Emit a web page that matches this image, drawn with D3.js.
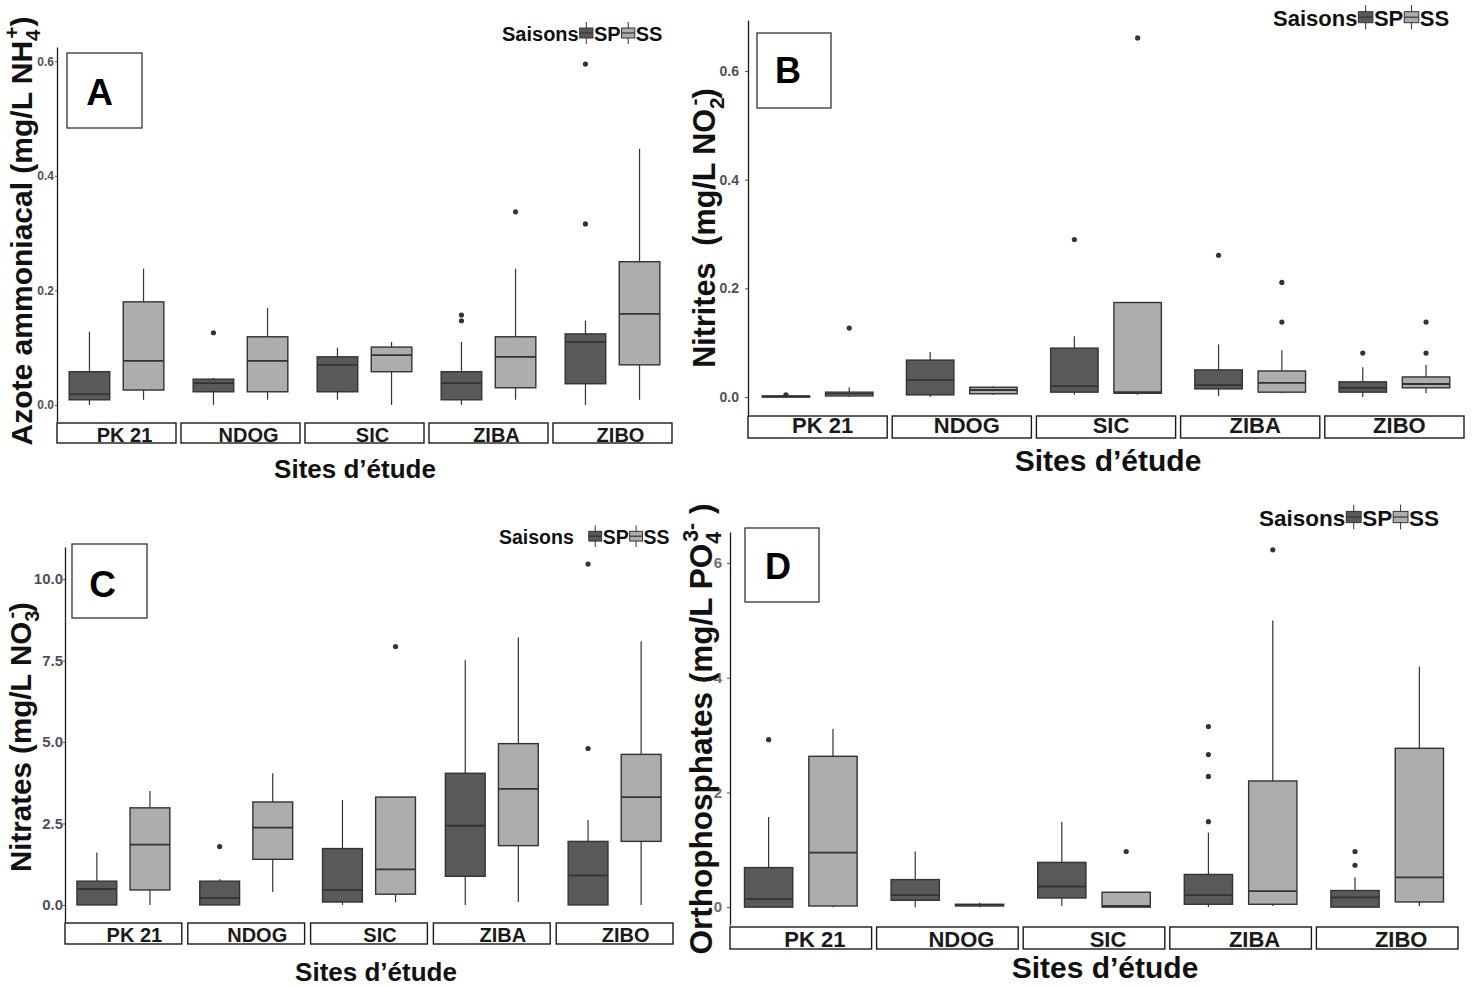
<!DOCTYPE html>
<html>
<head>
<meta charset="utf-8">
<script src="https://cdn.jsdelivr.net/npm/d3@7"></script>
<style>
  html, body { margin: 0; padding: 0; background: #ffffff; }
  svg { display: block; }
  text { font-family: "Liberation Sans", Arial, sans-serif; }
</style>
</head>
<body>
<svg id="chart" width="1474" height="986"></svg>
<script>
// ---- Categories ----
const sites = ["PK 21", "NDOG", "SIC", "ZIBA", "ZIBO"];
const seasons = ["SP", "SS"];
const legendTitle = "Saisons";
const xTitle = "Sites d’étude";

// ---- Box statistics per site: [lower whisker, Q1, median, Q3, upper whisker] ----
// A: ammonium nitrogen (mg/L NH4+)
const ammoniumSP = [
  [0.000, 0.009, 0.019, 0.058, 0.128],
  [0.000, 0.023, 0.038, 0.045, 0.047],
  [0.009, 0.023, 0.070, 0.084, 0.100],
  [0.000, 0.009, 0.038, 0.058, 0.110],
  [0.000, 0.037, 0.110, 0.124, 0.147]
];
const ammoniumSS = [
  [0.009, 0.026, 0.077, 0.180, 0.238],
  [0.009, 0.023, 0.077, 0.119, 0.169],
  [0.000, 0.058, 0.087, 0.101, 0.110],
  [0.009, 0.030, 0.084, 0.119, 0.238],
  [0.009, 0.070, 0.159, 0.250, 0.447]
];
const ammoniumOutSP = [[], [0.126], [], [0.157, 0.147], [0.595, 0.316]];
const ammoniumOutSS = [[], [], [], [0.337], []];
const ammoniumTicks = [0, 0.2, 0.4, 0.6];

// B: nitrites (mg/L NO2-)
const nitriteSP = [
  [0.000, 0.000, 0.001, 0.002, 0.003],
  [0.000, 0.004, 0.031, 0.068, 0.083],
  [0.004, 0.009, 0.020, 0.090, 0.112],
  [0.002, 0.015, 0.022, 0.050, 0.097],
  [0.000, 0.009, 0.017, 0.028, 0.055]
];
const nitriteSS = [
  [0.000, 0.002, 0.006, 0.009, 0.018],
  [0.004, 0.006, 0.013, 0.018, 0.020],
  [0.004, 0.007, 0.009, 0.174, 0.174],
  [0.007, 0.009, 0.026, 0.048, 0.086],
  [0.007, 0.017, 0.024, 0.037, 0.059]
];
const nitriteOutSP = [[0.004], [], [0.290], [0.261], [0.081]];
const nitriteOutSS = [[0.127], [], [0.661], [0.211, 0.138], [0.081, 0.138]];
const nitriteTicks = [0, 0.2, 0.4, 0.6];

// C: nitrates (mg/L NO3-)
const nitrateSP = [
  [0.00, 0.00, 0.49, 0.73, 1.61],
  [0.00, 0.00, 0.21, 0.73, 0.79],
  [0.00, 0.09, 0.46, 1.73, 3.22],
  [0.00, 0.88, 2.43, 4.04, 7.51],
  [0.00, 0.00, 0.91, 1.95, 2.61]
];
const nitrateSS = [
  [0.00, 0.46, 1.85, 2.98, 3.50],
  [0.40, 1.40, 2.37, 3.16, 4.04],
  [0.09, 0.33, 1.09, 3.31, 3.31],
  [0.09, 1.82, 3.56, 4.95, 8.21],
  [0.00, 1.95, 3.31, 4.62, 8.09]
];
const nitrateOutSP = [[], [1.79], [], [], [10.46, 4.80]];
const nitrateOutSS = [[], [], [7.93], [], []];
const nitrateTicks = [0, 2.5, 5, 7.5, 10];

// D: orthophosphates (mg/L PO4 3-)
const phosphateSP = [
  [0.00, 0.00, 0.14, 0.69, 1.57],
  [0.00, 0.12, 0.21, 0.48, 0.97],
  [0.02, 0.16, 0.36, 0.78, 1.49],
  [0.00, 0.05, 0.21, 0.57, 1.30],
  [0.00, 0.00, 0.17, 0.29, 0.52]
];
const phosphateSS = [
  [0.00, 0.02, 0.95, 2.63, 3.11],
  [0.00, 0.02, 0.04, 0.05, 0.08],
  [0.00, 0.00, 0.02, 0.26, 0.26],
  [0.02, 0.05, 0.28, 2.20, 5.00],
  [0.02, 0.09, 0.52, 2.77, 4.19]
];
const phosphateOutSP = [[2.92], [], [], [3.15, 2.66, 2.28, 1.49], [0.97, 0.73]];
const phosphateOutSS = [[], [], [0.97], [6.23], []];
const phosphateTicks = [0, 2, 4, 6];

// ---- Axis titles (k: sub / sup for chemical notation) ----
const ammoniumLabel = [{t: "Azote ammoniacal (mg/L NH"}, {t: "4", k: "sub"}, {t: "+", k: "sup", dx: -9}, {t: ")"}];
const nitriteLabel = [{t: "Nitrites  (mg/L NO"}, {t: "2", k: "sub"}, {t: "-", k: "sup", dx: -8}, {t: ")"}];
const nitrateLabel = [{t: "Nitrates (mg/L NO"}, {t: "3", k: "sub"}, {t: "-", k: "sup", dx: -8}, {t: ")"}];
const phosphateLabel = [{t: "Orthophosphates (mg/L PO"}, {t: "4", k: "sub"}, {t: "3-", k: "sup", dx: -10}, {t: " )"}];

// ---- Colours ----
const seasonFill = {SP: "#595959", SS: "#adadad"};
const ink = "#333333";

// ---- Panel layout ----
const panels = [
  { tag: "A", sp: ammoniumSP, ss: ammoniumSS, outSP: ammoniumOutSP, outSS: ammoniumOutSS,
    ticks: ammoniumTicks, fmt: d3.format(".1f"), label: ammoniumLabel,
    frame: {left: 57, right: 672, top: 47, bottom: 422, gap: 5, stripTop: 423, stripH: 20},
    tick: {size: 12, len: 2, pad: 1, color: "#4f4f5c"},
    ytitle: {x: 32, y: 231, size: 30},
    strip: {size: 20, dx: 8, base: 19},
    box: {x: 67, y: 53, w: 75, h: 75, size: 37, dx: -5, base: 52},
    legend: {x: 502, y: 41, size: 20, gap: 1},
    xtitle: {x: 355, y: 478, size: 26} },
  { tag: "B", sp: nitriteSP, ss: nitriteSS, outSP: nitriteOutSP, outSS: nitriteOutSS,
    ticks: nitriteTicks, fmt: d3.format(".1f"), label: nitriteLabel,
    frame: {left: 748, right: 1464, top: 20, bottom: 415, gap: 5, stripTop: 416, stripH: 22},
    tick: {size: 14, len: 3, pad: 6, color: "#4f4f5c"},
    ytitle: {x: 715, y: 228, size: 30.5},
    strip: {size: 22, dx: 5, base: 17},
    box: {x: 757, y: 33, w: 74, h: 75, size: 36, dx: -6, base: 50},
    legend: {x: 1273, y: 26, size: 22, gap: 1},
    xtitle: {x: 1108, y: 471, size: 30} },
  { tag: "C", sp: nitrateSP, ss: nitrateSS, outSP: nitrateOutSP, outSS: nitrateOutSS,
    ticks: nitrateTicks, fmt: d3.format(".1f"), label: nitrateLabel,
    frame: {left: 65, right: 673, top: 547, bottom: 922, gap: 6, stripTop: 923, stripH: 21},
    tick: {size: 15, len: 2, pad: 0, color: "#4f4f5c"},
    ytitle: {x: 31, y: 737, size: 29.5},
    strip: {size: 20, dx: 11, base: 19},
    box: {x: 72, y: 544, w: 75, h: 74, size: 37, dx: -7, base: 53},
    legend: {x: 499, y: 544, size: 19.5, gap: 15},
    xtitle: {x: 376, y: 981, size: 26} },
  { tag: "D", sp: phosphateSP, ss: phosphateSS, outSP: phosphateOutSP, outSS: phosphateOutSS,
    ticks: phosphateTicks, fmt: d3.format("d"), label: phosphateLabel,
    frame: {left: 730, right: 1458, top: 532, bottom: 925, gap: 5, stripTop: 927, stripH: 22},
    tick: {size: 15, len: 3, pad: 5, color: "#6b6b78"},
    ytitle: {x: 712, y: 729, size: 31.5},
    strip: {size: 22, dx: 14, base: 20},
    box: {x: 745, y: 528, w: 74, h: 74, size: 36, dx: -4, base: 51},
    legend: {x: 1259, y: 526, size: 22.5, gap: 1},
    xtitle: {x: 1105, y: 978, size: 30} }
];

const svg = d3.select("#chart");
svg.append("rect").attr("width", 1474).attr("height", 986).attr("fill", "#ffffff");

// Writes a label with sub/superscript tspans into a text selection
function richText(sel, segs, size) {
  let cur = 0;
  segs.forEach(s => {
    const target = s.k === "sub" ? 0.28 * size : s.k === "sup" ? -0.45 * size : 0;
    const ts = sel.append("tspan")
      .attr("dy", target - cur)
      .attr("font-size", s.k ? 0.68 * size : size)
      .text(s.t);
    if (s.dx) ts.attr("dx", s.dx);
    cur = target;
  });
}

// Small boxplot glyph used as a legend key
function legendKey(g, x, cy, size, fill) {
  const kw = 0.66 * size, kh = 0.5 * size;
  g.append("line").attr("x1", x + kw / 2).attr("x2", x + kw / 2)
    .attr("y1", cy - 0.55 * size).attr("y2", cy + 0.55 * size)
    .attr("stroke", ink).attr("stroke-width", 1);
  g.append("rect").attr("x", x).attr("y", cy - kh / 2).attr("width", kw).attr("height", kh)
    .attr("fill", fill).attr("stroke", ink).attr("stroke-width", 1);
  g.append("line").attr("x1", x).attr("x2", x + kw).attr("y1", cy).attr("y2", cy)
    .attr("stroke", ink).attr("stroke-width", 1.2);
  return kw;
}

function drawPanel(p) {
  const g = svg.append("g").attr("class", "panel-" + p.tag);
  const F = p.frame;

  // y scale: data range expanded by 5% on each side
  const allVals = [];
  [p.sp, p.ss].forEach(arr => arr.forEach(r => allVals.push(...r)));
  [p.outSP, p.outSS].forEach(arr => arr.forEach(r => allVals.push(...r)));
  const lo = d3.min(allVals), hi = d3.max(allVals), pad = (hi - lo) * 0.05;
  const y = d3.scaleLinear().domain([lo - pad, hi + pad]).range([F.bottom, F.top]);

  // facets (sites) and dodge within each facet (seasons)
  const step = (F.right - F.left + F.gap) / sites.length;
  const fx = d3.scaleBand().domain(sites).range([F.left, F.right])
    .paddingInner(F.gap / step).paddingOuter(0);
  const sx = d3.scaleBand().domain(seasons).range([0, fx.bandwidth()])
    .paddingInner(0.25).paddingOuter(0.225);

  // y axis
  const axis = d3.axisLeft(y).tickValues(p.ticks).tickFormat(p.fmt)
    .tickSize(p.tick.len).tickSizeOuter(0).tickPadding(p.tick.pad);
  const ax = g.append("g").attr("transform", `translate(${F.left},0)`).call(axis);
  ax.select(".domain").attr("stroke", "#1a1a1a").attr("stroke-width", 1.3);
  ax.selectAll(".tick line").attr("stroke", "#555").attr("stroke-width", 1);
  ax.selectAll(".tick text").attr("fill", p.tick.color)
    .attr("font-size", p.tick.size).attr("font-weight", "bold")
    .attr("font-family", "'Liberation Sans', Arial, sans-serif");

  // boxes
  const rows = [];
  sites.forEach((site, i) => {
    seasons.forEach(season => {
      const st = season === "SP" ? p.sp[i] : p.ss[i];
      const out = season === "SP" ? p.outSP[i] : p.outSS[i];
      rows.push({site, season, min: st[0], q1: st[1], med: st[2], q3: st[3], max: st[4], out});
    });
  });

  const bg = g.append("g");
  rows.forEach(r => {
    const x0 = fx(r.site) + sx(r.season), w = sx.bandwidth(), cx = x0 + w / 2;
    bg.append("line").attr("x1", cx).attr("x2", cx).attr("y1", y(r.q3)).attr("y2", y(r.max))
      .attr("stroke", ink).attr("stroke-width", 1.2);
    bg.append("line").attr("x1", cx).attr("x2", cx).attr("y1", y(r.q1)).attr("y2", y(r.min))
      .attr("stroke", ink).attr("stroke-width", 1.2);
    bg.append("rect").attr("x", x0).attr("y", y(r.q3)).attr("width", w)
      .attr("height", Math.max(y(r.q1) - y(r.q3), 1))
      .attr("fill", seasonFill[r.season]).attr("stroke", ink).attr("stroke-width", 1.4);
    bg.append("line").attr("x1", x0).attr("x2", x0 + w).attr("y1", y(r.med)).attr("y2", y(r.med))
      .attr("stroke", ink).attr("stroke-width", 1.8);
    r.out.forEach(v => {
      bg.append("circle").attr("cx", cx).attr("cy", y(v)).attr("r", 2.6).attr("fill", ink);
    });
  });

  // facet strips below the panel
  const sg = g.append("g");
  sites.forEach(site => {
    const x0 = fx(site), w = fx.bandwidth();
    sg.append("rect").attr("x", x0).attr("y", F.stripTop).attr("width", w).attr("height", F.stripH)
      .attr("fill", "#ffffff").attr("stroke", "#1a1a1a").attr("stroke-width", 1.4);
    sg.append("text").attr("x", x0 + w / 2 + p.strip.dx).attr("y", F.stripTop + p.strip.base)
      .attr("text-anchor", "middle").attr("font-size", p.strip.size).attr("font-weight", "bold")
      .attr("fill", "#1a1a1a").text(site);
  });

  // y title
  const yt = g.append("text")
    .attr("transform", `translate(${p.ytitle.x},${p.ytitle.y}) rotate(-90)`)
    .attr("text-anchor", "middle").attr("font-weight", "bold").attr("fill", "#111")
    .style("white-space", "pre");
  richText(yt, p.label, p.ytitle.size);

  // x title
  g.append("text").attr("x", p.xtitle.x).attr("y", p.xtitle.y).attr("text-anchor", "middle")
    .attr("font-size", p.xtitle.size).attr("font-weight", "bold").attr("fill", "#111").text(xTitle);

  // panel letter box
  const B = p.box;
  g.append("rect").attr("x", B.x).attr("y", B.y).attr("width", B.w).attr("height", B.h)
    .attr("fill", "#ffffff").attr("stroke", "#333").attr("stroke-width", 1.3);
  g.append("text").attr("x", B.x + B.w / 2 + B.dx).attr("y", B.y + B.base)
    .attr("text-anchor", "middle").attr("font-family", "Lato, 'Open Sans', sans-serif")
    .attr("font-weight", 900).attr("font-size", B.size).attr("fill", "#000").text(p.tag);

  // legend
  const L = p.legend;
  const lg = g.append("g");
  let lx = L.x;
  const title = lg.append("text").attr("x", lx).attr("y", L.y).attr("font-size", L.size)
    .attr("font-weight", "bold").attr("fill", "#111").text(legendTitle);
  lx += title.node().getComputedTextLength() + L.gap;
  seasons.forEach(s => {
    lx += legendKey(lg, lx, L.y - 0.4 * L.size, L.size, seasonFill[s]) + 1;
    const t = lg.append("text").attr("x", lx).attr("y", L.y).attr("font-size", L.size)
      .attr("font-weight", "bold").attr("fill", "#111").text(s);
    lx += t.node().getComputedTextLength() + 1;
  });
}

panels.forEach(drawPanel);
</script>
</body>
</html>
